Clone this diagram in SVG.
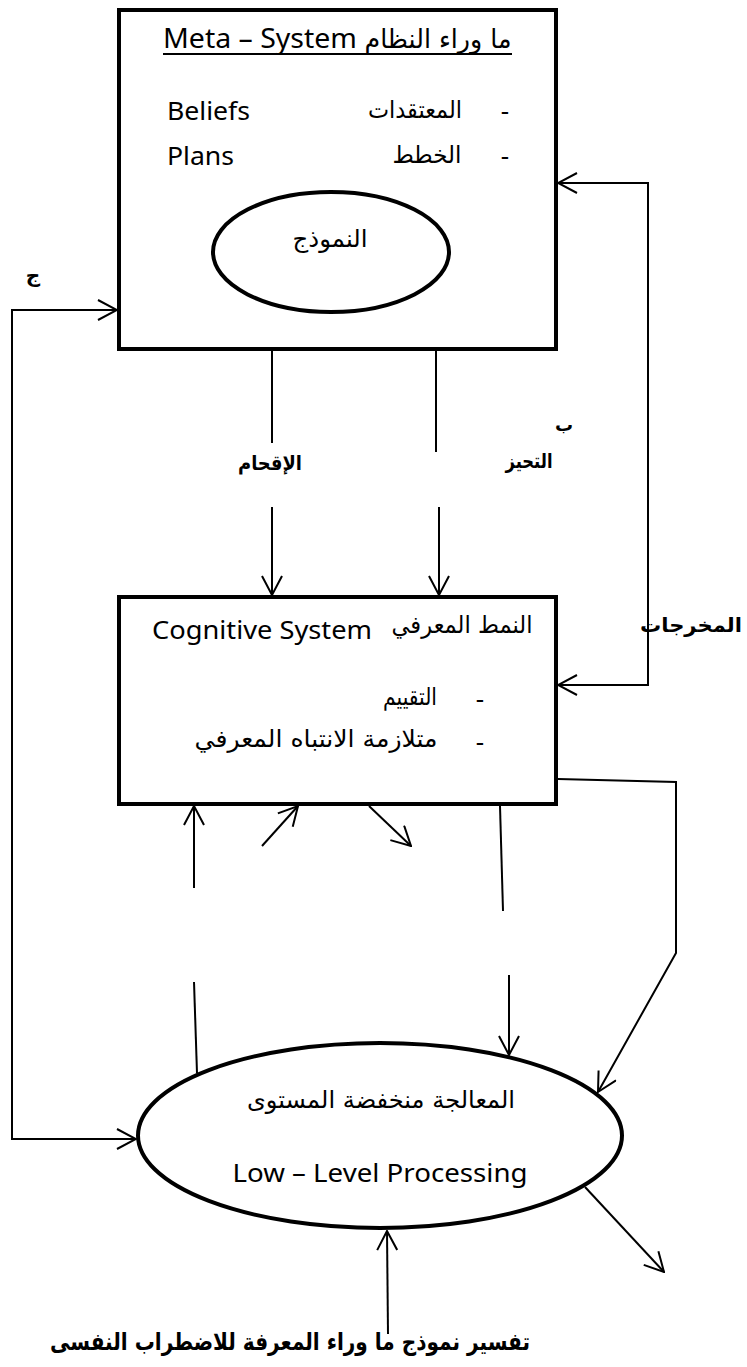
<svg xmlns="http://www.w3.org/2000/svg" width="747" height="1367" viewBox="0 0 747 1367">
<style>
.box{fill:none;stroke:#000;stroke-width:4}
.con{fill:none;stroke:#000;stroke-width:2}
.en{font-family:'Noto Sans','Liberation Sans',sans-serif;fill:#000}
.ar{font-family:'DejaVu Sans','Noto Sans',sans-serif;fill:#000}
.arb{font-family:'DejaVu Sans','Noto Sans',sans-serif;font-weight:bold;fill:#000}
</style>
<defs>
<marker id="ah" viewBox="0 0 21 22" refX="20" refY="11" markerWidth="21" markerHeight="22" orient="auto" markerUnits="userSpaceOnUse">
<path d="M1,1 L20,11 L1,21" fill="none" stroke="#000" stroke-width="2"/>
</marker>
</defs>
<rect width="747" height="1367" fill="#fff"/>

<g id="node-meta">
<rect class="box" x="119" y="10" width="437" height="339"/>
<text class="en" x="260" y="48" font-size="27" text-anchor="middle" textLength="194" lengthAdjust="spacingAndGlyphs">Meta – System</text>
<text class="ar" x="438" y="48" font-size="26" text-anchor="middle" textLength="147" lengthAdjust="spacingAndGlyphs">ما وراء النظام</text>
<line x1="163" y1="54" x2="512" y2="54" stroke="#000" stroke-width="2"/>
<text class="en" x="505" y="120" font-size="26" text-anchor="middle">-</text>
<text class="ar" x="415" y="118" font-size="24" text-anchor="middle" textLength="94" lengthAdjust="spacingAndGlyphs">المعتقدات</text>
<text class="en" x="167" y="120" font-size="26" textLength="83" lengthAdjust="spacingAndGlyphs">Beliefs</text>
<text class="en" x="505" y="165" font-size="26" text-anchor="middle">-</text>
<text class="ar" x="427" y="163" font-size="24" text-anchor="middle" textLength="69" lengthAdjust="spacingAndGlyphs">الخطط</text>
<text class="en" x="167" y="165" font-size="26" textLength="67" lengthAdjust="spacingAndGlyphs">Plans</text>
</g>

<g id="node-model">
<ellipse class="box" cx="331" cy="252" rx="118" ry="60"/>
<text class="ar" x="330" y="247" font-size="24" text-anchor="middle" textLength="75" lengthAdjust="spacingAndGlyphs">النموذج</text>
</g>

<g id="node-cognitive">
<rect class="box" x="119" y="597" width="437" height="207"/>
<text class="en" x="262" y="639" font-size="26" text-anchor="middle" textLength="220" lengthAdjust="spacingAndGlyphs">Cognitive System</text>
<text class="ar" x="462" y="633" font-size="24" text-anchor="middle" textLength="141" lengthAdjust="spacingAndGlyphs">النمط المعرفي</text>
<text class="en" x="480" y="708" font-size="26" text-anchor="middle">-</text>
<text class="ar" x="410" y="705" font-size="24" text-anchor="middle" textLength="54" lengthAdjust="spacingAndGlyphs">التقييم</text>
<text class="en" x="480" y="751" font-size="26" text-anchor="middle">-</text>
<text class="ar" x="316" y="747" font-size="24" text-anchor="middle" textLength="243" lengthAdjust="spacingAndGlyphs">متلازمة الانتباه المعرفي</text>
</g>

<g id="node-lowlevel">
<ellipse class="box" cx="380" cy="1135.5" rx="242" ry="92.5"/>
<text class="ar" x="381" y="1108" font-size="24" text-anchor="middle" textLength="268" lengthAdjust="spacingAndGlyphs">المعالجة منخفضة المستوى</text>
<text class="en" x="380" y="1182" font-size="26" text-anchor="middle" textLength="295" lengthAdjust="spacingAndGlyphs">Low – Level Processing</text>
</g>

<g id="connectors">
<path class="con" d="M12,720 L12,310 L117,310" marker-end="url(#ah)"/>
<path class="con" d="M12,720 L12,1139 L136,1139" marker-end="url(#ah)"/>
<line class="con" x1="272" y1="351" x2="272" y2="443"/>
<path class="con" d="M272,507 L272,595" marker-end="url(#ah)"/>
<line class="con" x1="436" y1="351" x2="436" y2="452"/>
<path class="con" d="M439,507 L439,595" marker-end="url(#ah)"/>
<path class="con" d="M648,430 L648,183 L558,183" marker-end="url(#ah)"/>
<path class="con" d="M648,430 L648,685 L558,685" marker-end="url(#ah)"/>
<path class="con" d="M558,779 L676,782 L676,953 L598,1092" marker-end="url(#ah)"/>
<path class="con" d="M194,888 L194,806" marker-end="url(#ah)"/>
<line class="con" x1="194" y1="982" x2="197" y2="1073"/>
<path class="con" d="M262,846 L298,806" marker-end="url(#ah)"/>
<path class="con" d="M369,806 L411,846" marker-end="url(#ah)"/>
<line class="con" x1="500" y1="806" x2="503" y2="911"/>
<path class="con" d="M509,975 L509,1055" marker-end="url(#ah)"/>
<path class="con" d="M388,1334 L387,1231" marker-end="url(#ah)"/>
<path class="con" d="M585,1187 L664,1272" marker-end="url(#ah)"/>
</g>

<g id="labels">
<text class="arb" x="33" y="282" font-size="20" text-anchor="middle">ج</text>
<text class="arb" x="270" y="470" font-size="20" text-anchor="middle" textLength="64" lengthAdjust="spacingAndGlyphs">الإقحام</text>
<text class="arb" x="529" y="468" font-size="20" text-anchor="middle" textLength="47" lengthAdjust="spacingAndGlyphs">التحيز</text>
<text class="arb" x="564" y="431" font-size="18" text-anchor="middle">ب</text>
<text class="arb" x="691" y="632" font-size="20" text-anchor="middle" textLength="102" lengthAdjust="spacingAndGlyphs">المخرجات</text>
</g>

<g id="caption">
<text class="arb" x="290" y="1350" font-size="24" text-anchor="middle" textLength="480" lengthAdjust="spacingAndGlyphs">تفسير نموذج ما وراء المعرفة للاضطراب النفسى</text>
</g>
</svg>
